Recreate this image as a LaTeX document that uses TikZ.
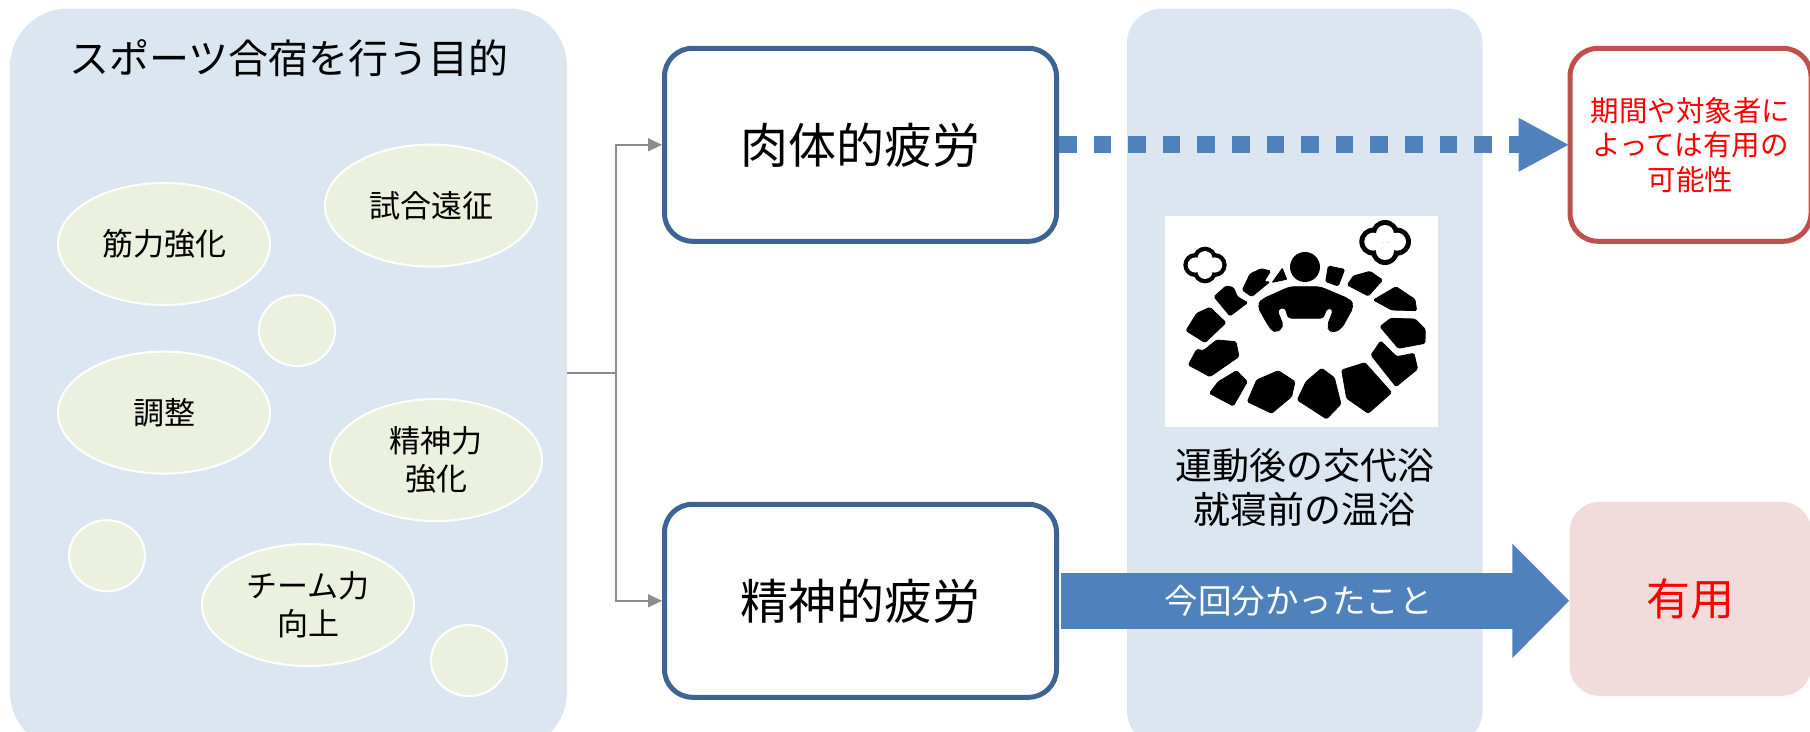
\documentclass[tikz,border=0pt]{standalone}
\usepackage{fontspec}
\setmainfont{Noto Sans CJK JP}
\usetikzlibrary{arrows.meta,shapes.geometric}
\definecolor{panelblue}{HTML}{DCE6F1}
\definecolor{boxblue}{HTML}{3E6494}
\definecolor{boxred}{HTML}{C0504D}
\definecolor{arrowblue}{HTML}{4F81BD}
\definecolor{bubble}{HTML}{EBF1DE}
\definecolor{rosy}{HTML}{F2DCDB}
\tikzstyle{panel} = [fill=panelblue, rectangle, inner sep=0pt]
\tikzstyle{block} = [draw=boxblue, fill=white, rectangle, line width=5pt, rounded corners=28pt,
    minimum height=193pt, minimum width=392pt, font=\fontsize{48}{52}\selectfont]
\tikzstyle{redblock} = [block, draw=boxred, minimum width=241pt, text=red, align=center,
    font=\fontsize{28.5}{34.5}\selectfont]
\tikzstyle{rosyblock} = [fill=rosy, rectangle, rounded corners=30pt, minimum height=194pt,
    minimum width=242pt, text=red, font=\fontsize{44}{48}\selectfont]
\tikzstyle{aim} = [draw=white, fill=bubble, ellipse, line width=2pt, inner sep=0pt, align=center,
    minimum width=212pt, minimum height=122pt, font=\fontsize{31}{38}\selectfont]
\tikzstyle{dot} = [draw=white, fill=bubble, ellipse, line width=2pt, inner sep=0pt,
    minimum width=76pt, minimum height=71pt]
\tikzstyle{link} = [->, draw=gray!90, line width=1.4pt]
\tikzstyle{stone} = [draw=black, fill=black, line width=0.8pt, rounded corners=1.5pt]
\begin{document}
\begin{tikzpicture}[x=1pt,y=-1pt,>={Triangle[length=14pt,width=13pt]}]
    \useasboundingbox (0,0) rectangle (1810,731);
    \node [panel, minimum width=557pt, minimum height=741.5pt, rounded corners=58pt] (purpose) at (288.5,379.25) {};
    \node [panel, minimum width=355.5pt, minimum height=737.5pt, rounded corners=35pt] (middle) at (1304.75,377.25) {};
    \node [font=\fontsize{40}{44}\selectfont] (title) at (288.7,58) {スポーツ合宿を行う目的};
    \node [aim] (muscle) at (164,244) {\raisebox{3pt}{筋力強化}};
    \node [aim] (match) at (431,205.6) {試合遠征};
    \node [dot] (dota) at (297,330.5) {};
    \node [aim] (adjust) at (164,412.6) {調整};
    \node [aim] (will) at (436,460) {精神力\\強化};
    \node [dot] (dotb) at (107,555.7) {};
    \node [aim] (team) at (308,605) {チーム力\\向上};
    \node [dot] (dotc) at (469,660.6) {};
    \node [block] (body) at (860.5,144.8) {肉体的疲労};
    \node [block, below of=body, node distance=456pt] (mind) {精神的疲労};
    \node [redblock, right of=body, node distance=830pt] (maybe) {期間や対象者に\\よっては有用の\\可能性};
    \node [rosyblock, right of=mind, node distance=830pt, yshift=2pt] (useful) {有用};
    \node [fill=white, minimum width=273pt, minimum height=211.5pt, inner sep=0pt] (bath) at (1301.5,321.7) {};
    \node [align=center, font=\fontsize{37}{44}\selectfont] (bathtext) at (1304.6,487) {運動後の交代浴\\就寝前の温浴};
    \begin{scope}[shift={(1150,200)},x=0.3333pt,y=-0.3333pt]
        \fill [stone] (442,600) -- (468,545) -- (515,505) -- (553,533) -- (573,612) -- (530,657) -- cycle;
        \fill [stone] (292,605) -- (320,540) -- (385,512) -- (435,545) -- (425,590) -- (365,640) -- cycle;
        \fill [stone] (178,580) -- (205,545) -- (260,512) -- (292,545) -- (250,618) -- cycle;
        \fill [stone] (575,510) -- (645,488) -- (725,578) -- (655,640) -- (590,595) -- cycle;
        \fill [stone] (663,465) -- (692,423) -- (740,470) -- (792,460) -- (803,507) -- (738,560) -- cycle;
        \fill [stone] (690,380) -- (722,355) -- (795,357) -- (826,388) -- (825,430) -- (745,445) -- cycle;
        \fill [stone] (670,300) -- (738,260) -- (795,298) -- (800,332) -- (725,330) -- cycle;
        \fill [stone] (592,255) -- (610,228) -- (660,214) -- (698,240) -- (655,288) -- cycle;
        \fill [stone] (527,245) -- (535,198) -- (584,208) -- (565,258) -- cycle;
        \fill [stone, rounded corners=0.5pt] (367,247) -- (397,205) -- (410,238) -- cycle;
        \fill [stone] (277,270) -- (300,222) -- (333,206) -- (362,213) -- (342,245) -- (360,245) -- (305,290) -- cycle;
        \fill [stone] (192,290) -- (228,258) -- (250,262) -- (262,290) -- (293,308) -- (240,348) -- cycle;
        \fill [stone] (108,392) -- (140,340) -- (180,322) -- (228,368) -- (165,428) -- cycle;
        \fill [stone] (115,495) -- (140,448) -- (160,452) -- (200,420) -- (258,425) -- (267,470) -- (180,530) -- cycle;
        \fill (465,201) circle [radius=15pt];
        \fill [stone, rounded corners=5pt] (322,318) -- (352,372) -- (372,400) -- (402,382) -- (380,326) -- (410,322) -- (410,355) -- (525,355) -- (525,325) -- (552,325) -- (530,382) -- (548,400) -- (575,385) -- (612,318) -- (600,298) -- (510,260) -- (420,260) -- (335,298) -- cycle;
        \foreach \cx/\cy in {670/125,741/125,705/102,705/153}
            \fill (\cx,\cy) circle [radius=14pt];
        \foreach \cx/\cy in {670/125,741/125,705/102,705/153}
            \fill [white] (\cx,\cy) circle [radius=9pt];
        \foreach \cx/\cy in {136/195,194/195,165/176,165/214}
            \fill (\cx,\cy) circle [radius=12pt];
        \foreach \cx/\cy in {136/195,194/195,165/176,165/214}
            \fill [white] (\cx,\cy) circle [radius=7.6pt];
    \end{scope}
    \coordinate (fork) at (616,373);
    \draw [link, -] (purpose.east |- fork) -- (fork);
    \draw [link] (fork) |- (body);
    \draw [link] (fork) |- (mind);
    \draw [arrowblue, line width=17pt, dash pattern=on 17.6pt off 17pt, shorten >=-2pt, -{Triangle[length=51pt,width=50pt]}] (body) -- (maybe);
    \draw [arrowblue, line width=56pt, shorten <=1.5pt, -{Triangle[length=57pt,width=111pt]}] (mind) -- node [pos=0.47, text=white, font=\fontsize{33.5}{38}\selectfont] (found) {今回分かったこと} (mind -| useful.west);
\end{tikzpicture}
\end{document}
